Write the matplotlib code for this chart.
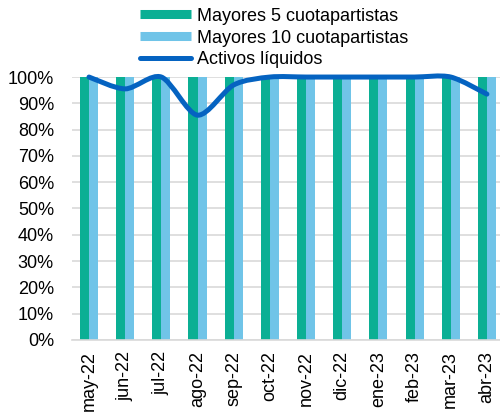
import numpy as np
import matplotlib
matplotlib.use("Agg")
from matplotlib import pyplot as plt
from matplotlib.path import Path
from matplotlib.patches import PathPatch
from matplotlib.lines import Line2D

plt.rcParams['font.family'] = ['Liberation Sans', 'DejaVu Sans']

months   = ["may-22", "jun-22", "jul-22", "ago-22", "sep-22", "oct-22",
            "nov-22", "dic-22", "ene-23", "feb-23", "mar-23", "abr-23"]
top5     = [100, 100, 100, 100, 100, 100, 100, 100, 100, 100, 100, 100]
top10    = [100, 100, 100, 100, 100, 100, 100, 100, 100, 100, 100, 100]
liquidos = [100, 95.5, 100, 85.5, 97, 100, 100, 100, 100, 100, 100, 93.5]

c_green = "#0BAF94"
c_blue  = "#70C4E8"
c_line  = "#0563C1"

fig = plt.figure(figsize=(5, 4.12), dpi=100)
ax = fig.add_axes([0.144, 0.175, 0.866, 0.638])

x = np.arange(len(months))
w = 0.25
ax.bar(x - w/2, top5, width=w, color=c_green, zorder=2)
ax.bar(x + w/2, top10, width=w, color=c_blue, zorder=2)

# smoothed line (Catmull-Rom style bezier control points, like Excel)
pts = np.column_stack([x, liquidos]).astype(float)
verts = [tuple(pts[0])]
codes = [Path.MOVETO]
n = len(pts)
k = 1 / 7
for i in range(n - 1):
    p0 = pts[i - 1] if i > 0 else pts[i]
    p1 = pts[i]
    p2 = pts[i + 1]
    p3 = pts[i + 2] if i + 2 < n else pts[i + 1]
    c1 = p1 + (p2 - p0) * k
    c2 = p2 - (p3 - p1) * k
    verts += [tuple(c1), tuple(c2), tuple(p2)]
    codes += [Path.CURVE4] * 3
ax.add_patch(PathPatch(Path(verts, codes), facecolor="none", edgecolor=c_line,
                       lw=3.6, capstyle="round", zorder=3, clip_on=False))

ax.set_xlim(-0.47, 11.5)
ax.set_ylim(0, 100)
ax.set_yticks(np.arange(0, 101, 10))
ax.set_yticklabels(["%d%%" % v for v in range(0, 101, 10)], fontsize=13)
ax.set_xticks(x)
ax.set_xticklabels(months, rotation=90, fontsize=13)
ax.tick_params(axis="y", length=0, pad=13)
ax.tick_params(axis="x", length=0, pad=8)
ax.grid(axis="y", color="#d9d9d9", lw=1.2, zorder=0)
for s in ["top", "right", "left"]:
    ax.spines[s].set_visible(False)
ax.spines["bottom"].set_color("#d9d9d9")
ax.spines["bottom"].set_linewidth(1.2)

handles = [Line2D([], [], color=c_green, lw=6.5, solid_capstyle="butt"),
           Line2D([], [], color=c_blue, lw=6.5, solid_capstyle="butt"),
           Line2D([], [], color=c_line, lw=3.6, solid_capstyle="round")]
labels = ["Mayores 5 cuotapartistas", "Mayores 10 cuotapartistas", "Activos líquidos"]
fig.legend(handles, labels, loc="upper left", bbox_to_anchor=(0.255, 1.012),
           frameon=False, fontsize=13, handlelength=2.8, handletextpad=0.35,
           labelspacing=0.27, borderpad=0.2)

fig.savefig("out.png", dpi=100)
